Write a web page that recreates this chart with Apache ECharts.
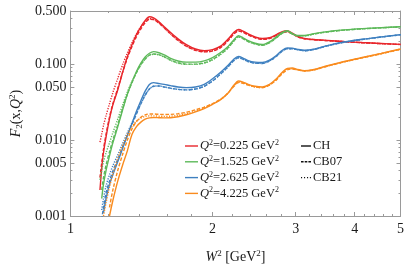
<!DOCTYPE html>
<html><head><meta charset="utf-8">
<script src="https://cdn.jsdelivr.net/npm/echarts@6/dist/echarts.min.js"></script>
<style>html,body{margin:0;padding:0;background:#fff}#c{width:407px;height:269px}</style>
</head><body><div id="c"></div>
<script>
// W^2 grid [GeV^2]
const W2 = [1.155,1.165,1.175,1.19,1.21,1.23,1.26,1.29,1.32,1.35,1.38,1.41,1.44,1.47,1.50,1.54,1.58,1.63,1.69,1.76,1.84,1.92,2.00,2.08,2.16,2.22,2.27,2.32,2.38,2.46,2.55,2.64,2.73,2.81,2.88,2.95,3.03,3.13,3.28,3.50,3.80,4.15,4.55,5.00];

// Q^2 = 0.225
const redCH   = [0.0022,0.0042,0.0068,0.011,0.019,0.029,0.046,0.078,0.125,0.18,0.245,0.31,0.375,0.42,0.405,0.36,0.31,0.26,0.215,0.18,0.158,0.150,0.155,0.172,0.215,0.262,0.285,0.272,0.250,0.228,0.217,0.222,0.245,0.268,0.275,0.255,0.232,0.218,0.211,0.205,0.198,0.192,0.187,0.182];
const redCB07 = [0.0032,0.0050,0.0075,0.012,0.020,0.030,0.048,0.078,0.12,0.17,0.23,0.29,0.35,0.39,0.385,0.345,0.30,0.25,0.205,0.172,0.152,0.145,0.148,0.165,0.205,0.25,0.272,0.262,0.242,0.222,0.212,0.217,0.238,0.26,0.266,0.25,0.228,0.215,0.209,0.203,0.197,0.191,0.186,0.181];
const redCB21 = [0.0094,0.012,0.0155,0.021,0.030,0.042,0.065,0.098,0.14,0.19,0.25,0.31,0.36,0.395,0.39,0.35,0.30,0.25,0.207,0.173,0.153,0.146,0.15,0.167,0.208,0.252,0.274,0.265,0.245,0.224,0.214,0.219,0.24,0.262,0.268,0.25,0.229,0.216,0.21,0.204,0.197,0.191,0.186,0.181];
// Q^2 = 1.525
const greenCH   = [null,0.0017,0.0026,0.0040,0.0062,0.0092,0.015,0.025,0.040,0.058,0.080,0.103,0.124,0.139,0.146,0.141,0.132,0.119,0.110,0.106,0.106,0.110,0.122,0.142,0.172,0.21,0.236,0.222,0.203,0.188,0.181,0.196,0.228,0.262,0.276,0.252,0.238,0.238,0.252,0.268,0.282,0.293,0.302,0.311];
const greenCB07 = [null,0.0022,0.0032,0.0047,0.0070,0.0100,0.016,0.026,0.040,0.057,0.077,0.098,0.117,0.131,0.136,0.133,0.125,0.113,0.104,0.100,0.100,0.104,0.115,0.135,0.165,0.203,0.228,0.216,0.198,0.184,0.177,0.191,0.222,0.255,0.27,0.249,0.235,0.235,0.249,0.265,0.280,0.291,0.300,0.309];
const greenCB21 = [0.0030,0.0040,0.0052,0.0068,0.0092,0.0125,0.019,0.029,0.043,0.059,0.078,0.098,0.116,0.130,0.135,0.132,0.124,0.112,0.103,0.099,0.099,0.103,0.114,0.134,0.164,0.202,0.228,0.216,0.198,0.184,0.177,0.191,0.222,0.255,0.27,0.249,0.235,0.235,0.249,0.265,0.280,0.291,0.300,0.309];
// Q^2 = 2.625
const blueCH   = [null,null,0.0011,0.0017,0.0026,0.0035,0.0052,0.0078,0.0115,0.0165,0.024,0.033,0.044,0.054,0.057,0.0555,0.054,0.052,0.050,0.049,0.050,0.054,0.064,0.078,0.097,0.117,0.126,0.120,0.111,0.106,0.105,0.113,0.130,0.152,0.163,0.162,0.156,0.152,0.157,0.175,0.195,0.212,0.228,0.244];
const blueCB07 = [null,0.0009,0.0013,0.0020,0.0029,0.0039,0.0056,0.0081,0.0116,0.0160,0.022,0.030,0.039,0.047,0.051,0.0515,0.050,0.048,0.0465,0.0458,0.047,0.051,0.060,0.074,0.093,0.112,0.121,0.116,0.108,0.103,0.102,0.110,0.127,0.148,0.159,0.159,0.154,0.150,0.156,0.174,0.194,0.211,0.227,0.243];
const blueCB21 = [null,0.0012,0.0017,0.0025,0.0035,0.0046,0.0064,0.0090,0.0125,0.0168,0.023,0.030,0.039,0.047,0.051,0.0515,0.050,0.048,0.0465,0.0458,0.047,0.051,0.060,0.074,0.093,0.112,0.121,0.116,0.108,0.103,0.102,0.110,0.127,0.148,0.159,0.159,0.154,0.150,0.156,0.174,0.194,0.211,0.227,0.243];
// Q^2 = 4.225
const orangeCH   = [null,null,null,null,0.0010,0.0016,0.0029,0.0047,0.0072,0.0118,0.0150,0.0172,0.0188,0.0196,0.0198,0.0197,0.0196,0.0197,0.0203,0.0215,0.0235,0.0260,0.0295,0.0340,0.042,0.053,0.060,0.058,0.054,0.051,0.050,0.054,0.064,0.078,0.088,0.089,0.085,0.082,0.085,0.095,0.108,0.122,0.138,0.158];
const orangeCB07 = [null,null,null,null,0.0013,0.0022,0.0040,0.0065,0.0100,0.0140,0.0175,0.0200,0.0215,0.0220,0.0220,0.0218,0.0217,0.0218,0.0222,0.0232,0.0250,0.0272,0.0302,0.0345,0.042,0.051,0.057,0.056,0.053,0.050,0.049,0.053,0.062,0.075,0.084,0.086,0.084,0.081,0.084,0.094,0.107,0.121,0.137,0.157];
const orangeCB21 = [null,null,0.0010,0.0015,0.0024,0.0036,0.0057,0.0085,0.0118,0.0150,0.0178,0.0195,0.0205,0.0208,0.0208,0.0206,0.0205,0.0206,0.0211,0.0222,0.0241,0.0265,0.0298,0.0342,0.042,0.052,0.058,0.057,0.053,0.050,0.049,0.053,0.063,0.076,0.086,0.087,0.084,0.081,0.084,0.094,0.107,0.121,0.137,0.157];

const q2Values = ['0.225','1.525','2.625','4.225'];
const colors = ['#e8262b','#5db95a','#3f80c0','#f98b1e'];
const models = ['CH','CB07','CB21'];
const curves = [
  [redCH, redCB07, redCB21],
  [greenCH, greenCB07, greenCB21],
  [blueCH, blueCB07, blueCB21],
  [orangeCH, orangeCB07, orangeCB21]
];
const xMajor = [1,2,3,4,5];
const xMinor = [1.2,1.4,1.6,1.8,2.2,2.4,2.6,2.8,3.2,3.4,3.6,3.8,4.2,4.4,4.6,4.8];
const yMajor = [0.001,0.005,0.01,0.05,0.1,0.5];
const yMinor = [0.002,0.003,0.004,0.006,0.007,0.008,0.009,0.02,0.03,0.04,0.06,0.07,0.08,0.09,0.2,0.3,0.4];

const dashes = ['solid',[3.5,1.8],[1.2,1.4]];
const FONT = "'Liberation Serif','Times New Roman',serif";
const axisColor = '#9a9a9a';
const txt = '#1a1a1a';

// legend glyphs (line samples)
const solidIcon = 'path://M0,0h13v1.4h-13z';
const modelIcons = [
  'path://M0,0h10v1.4h-10z',
  'path://M0,0h2.6v1.4h-2.6zM3.7,0h2.6v1.4h-2.6zM7.4,0h2.6v1.4h-2.6z',
  'path://M0,0h1.1v1.4h-1.1zM3,0h1.1v1.4h-1.1zM6,0h1.1v1.4h-1.1zM8.9,0h1.1v1.4h-1.1z'
];

const seriesNames = q2Values.map(q => 'Q2=' + q);
const series = [];
curves.forEach((group, ci) => {
  group.forEach((arr, mi) => {
    series.push({
      type: 'line', name: seriesNames[ci], xAxisIndex: 0, yAxisIndex: 0,
      data: W2.map((w, i) => [w, arr[i]]),
      symbol: 'none', showSymbol: false, smooth: 0.3, connectNulls: false,
      clip: true,
      lineStyle: {color: colors[ci], width: 1.4, type: dashes[mi]},
      itemStyle: {color: colors[ci]},
      z: 3
    });
  });
});
models.forEach((m, mi) => {
  series.push({
    type: 'line', name: m, data: [], symbol: 'none',
    lineStyle: {color: '#111', width: 1.4, type: dashes[mi]},
    itemStyle: {color: '#111'}
  });
});

function xAx(pos, ticks, len, labels, showLine) {
  return {
    type: 'log', logBase: 10, min: 1, max: 5, position: pos, gridIndex: 0,
    axisLine: {show: showLine, onZero: false, lineStyle: {color: axisColor, width: 1}},
    axisTick: {show: true, inside: true, length: len, customValues: ticks, lineStyle: {color: axisColor}},
    axisLabel: labels ? {show: true, customValues: xMajor, margin: 6, color: txt, fontFamily: FONT, fontSize: 14,
      formatter: v => String(Math.round(v))} : {show: false},
    splitLine: {show: false}, minorTick: {show: false}
  };
}
function yAx(pos, ticks, len, labels, showLine) {
  return {
    type: 'log', logBase: 10, min: 0.001, max: 0.5, position: pos, gridIndex: 0,
    axisLine: {show: showLine, onZero: false, lineStyle: {color: axisColor, width: 1}},
    axisTick: {show: true, inside: true, length: len, customValues: ticks, lineStyle: {color: axisColor}},
    axisLabel: labels ? {show: true, customValues: yMajor, margin: 4, color: txt, fontFamily: FONT, fontSize: 14,
      formatter: v => Number(v).toFixed(3)} : {show: false},
    splitLine: {show: false}, minorTick: {show: false}
  };
}

const xAxes = [xAx('bottom', xMajor, 4, true, true), xAx('bottom', xMinor, 2, false, false),
               xAx('top', xMajor, 4, false, true), xAx('top', xMinor, 2, false, false)];
xAxes[0].name = '{i|W}{sup|2} [GeV{sup|2}]';
xAxes[0].nameLocation = 'middle';
xAxes[0].nameGap = 33;
xAxes[0].nameTextStyle = {color: txt, fontFamily: FONT, fontSize: 14,
  rich: {i: {fontStyle: 'italic', fontFamily: FONT, fontSize: 14, color: txt, lineHeight: 16},
         sup: {fontSize: 9, fontFamily: FONT, color: txt, verticalAlign: 'top', lineHeight: 9}}};
const yAxes = [yAx('left', yMajor, 4, true, true), yAx('left', yMinor, 2, false, false),
               yAx('right', yMajor, 4, false, true), yAx('right', yMinor, 2, false, false)];
yAxes[0].name = '{i|F}{sub|2}(x,{i|Q}{sup|2})';
yAxes[0].nameLocation = 'middle';
yAxes[0].nameGap = 44;
yAxes[0].nameTextStyle = {color: txt, fontFamily: FONT, fontSize: 14, lineHeight: 16,
  rich: {i: {fontStyle: 'italic', fontFamily: FONT, fontSize: 14, color: txt, lineHeight: 16},
         sub: {fontSize: 9, fontFamily: FONT, color: txt, verticalAlign: 'bottom', lineHeight: 9},
         sup: {fontSize: 9, fontFamily: FONT, color: txt, verticalAlign: 'top', lineHeight: 9}}};

const legendRich = {
  i: {fontStyle: 'italic', fontFamily: FONT, fontSize: 12.5, color: txt, lineHeight: 14},
  sup: {fontSize: 8, fontFamily: FONT, color: txt, verticalAlign: 'top', lineHeight: 8}
};

const option = {
  animation: false,
  backgroundColor: '#fff',
  grid: {left: 61, right: 4, top: 11, bottom: 53, containLabel: false},
  xAxis: xAxes,
  yAxis: yAxes,
  legend: [
    {data: seriesNames.map(n => ({name: n, icon: solidIcon})), orient: 'vertical', left: 185, top: 139,
     itemWidth: 13, itemHeight: 10, itemGap: 1.8, selectedMode: false, padding: 0,
     textStyle: {fontFamily: FONT, fontSize: 12.5, color: txt, lineHeight: 14, rich: legendRich, padding: [0,0,0,-3]},
     formatter: n => '{i|Q}{sup|2}=' + n.slice(3) + ' GeV{sup|2}'},
    {data: models.map((m, i) => ({name: m, icon: modelIcons[i]})), orient: 'vertical', left: 301, top: 139,
     itemWidth: 10, itemHeight: 10, itemGap: 1.8, selectedMode: false, padding: 0,
     textStyle: {fontFamily: FONT, fontSize: 12.5, color: txt, lineHeight: 14, padding: [0,0,0,-3]}}
  ],
  series: series
};
const chart = echarts.init(document.getElementById('c'), null, {renderer: 'canvas'});
chart.setOption(option);
</script></body></html>
